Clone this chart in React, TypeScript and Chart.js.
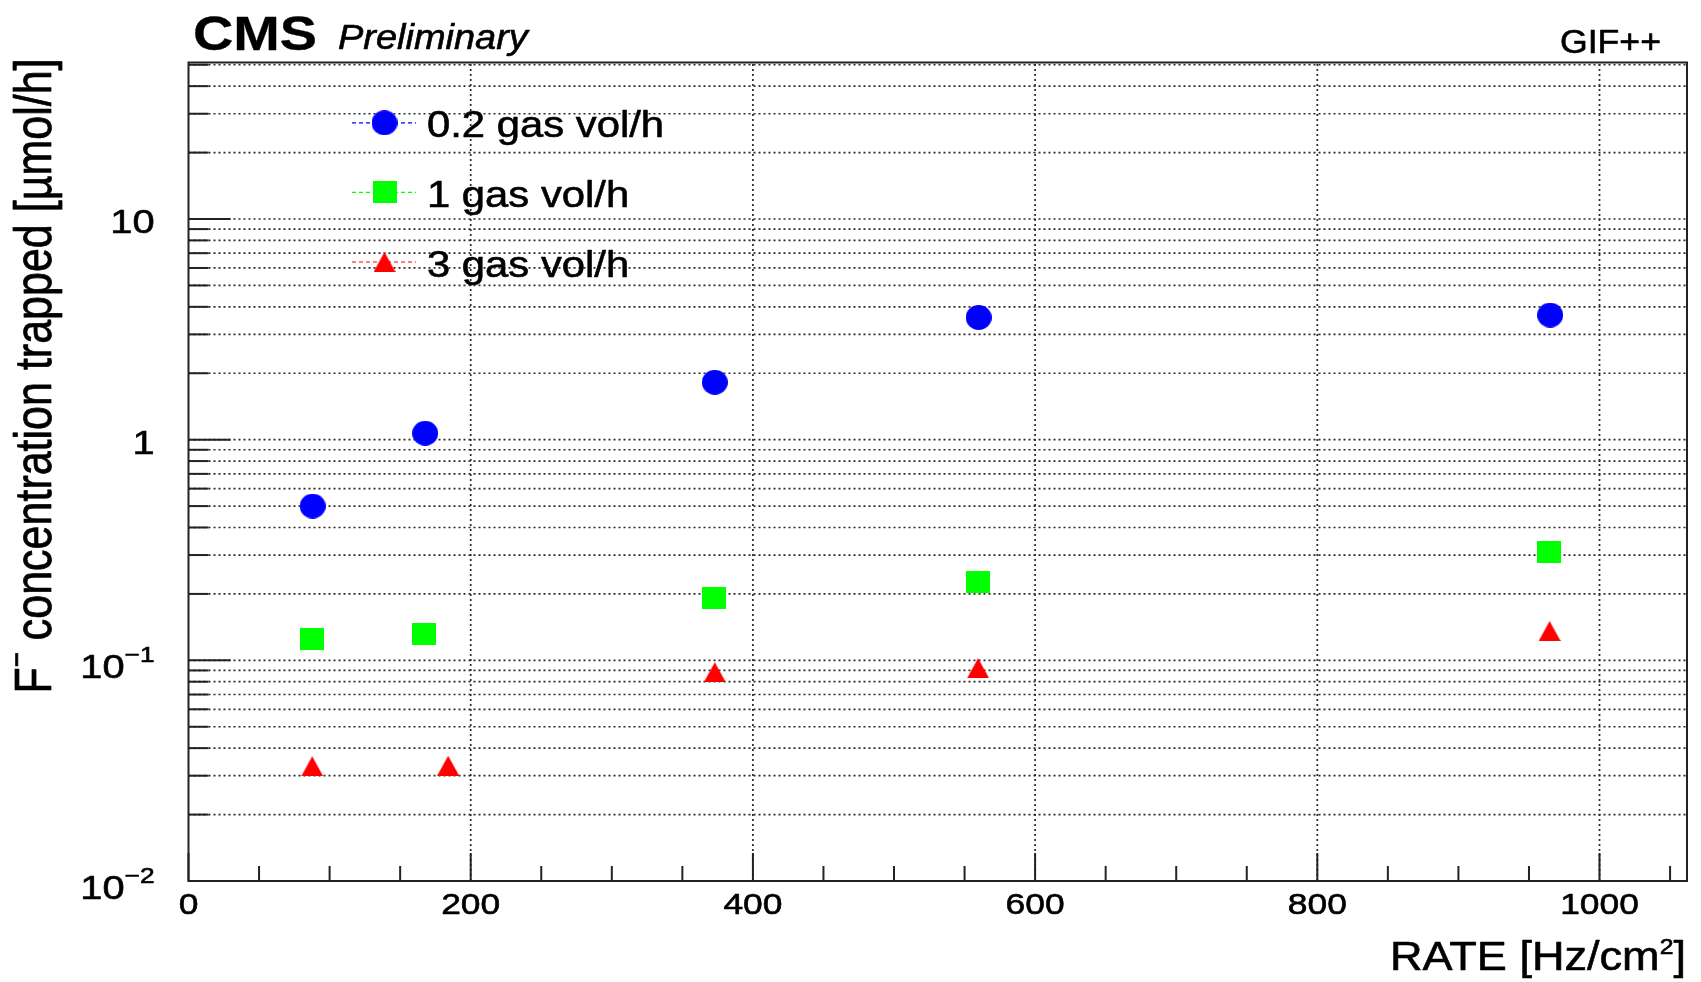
import React, { useEffect, useRef } from 'react';
import { Chart, registerables } from 'chart.js';

Chart.register(...registerables);

const FAMILY = '"Liberation Sans", Arial, Helvetica, sans-serif';

// ---- data ----
const seriesLabels = ['0.2 gas vol/h', '1 gas vol/h', '3 gas vol/h'];
const seriesColors = ['#0000ff', '#00ff00', '#ff0000'];

const ratesBlue = [88.0, 167.7, 373, 560, 965];
const trapped02 = [0.50, 1.07, 1.82, 3.58, 3.67];

const ratesGreen = [87.3, 166.6, 372.3, 559.3, 964.2];
const trapped1 = [0.1245, 0.132, 0.192, 0.227, 0.309];

const ratesRed = [87.7, 184, 373, 559.6, 964.6];
const trapped3 = [0.0331, 0.0333, 0.0883, 0.0921, 0.1358];

// ---- axes ----
const X_MIN = 0;
const X_MAX = 1062;
const Y_MIN = 0.01;
const Y_MAX = 51.2;
const xMajorTicks = [0, 200, 400, 600, 800, 1000];
const xTickLabels = ['0', '200', '400', '600', '800', '1000'];
const xMinorStep = 50;
const yMajorTicks = [0.01, 0.1, 1, 10];
const yTickBase = ['10', '10', '1', '10'];
const yTickExp = ['\u22122', '\u22121', '', ''];
const yDecades = [-2, -1, 0, 1];

type Seg = { t: string; f?: number; up?: number };
type RichOpts = {
  align?: 'left' | 'right' | 'center';
  pre?: string;
  sx?: number;
  sy?: number;
  rot?: number;
  color?: string;
  stroke?: number;
};

function drawRich(ctx: CanvasRenderingContext2D, segs: Seg[], x: number, y: number, size: number, o: RichOpts) {
  const pre = o.pre ?? '';
  ctx.save();
  ctx.translate(x, y);
  if (o.rot) ctx.rotate(o.rot);
  ctx.scale(o.sx ?? 1, o.sy ?? 1);
  ctx.fillStyle = o.color ?? '#000';
  ctx.strokeStyle = o.color ?? '#000';
  ctx.lineJoin = 'round';
  ctx.textBaseline = 'alphabetic';
  ctx.textAlign = 'left';
  const fontFor = (s: Seg) => `${pre} ${size * (s.f ?? 1)}px ${FAMILY}`.trim();
  const widths = segs.map((s) => {
    ctx.font = fontFor(s);
    return ctx.measureText(s.t).width;
  });
  const total = widths.reduce((a, b) => a + b, 0);
  let cx = o.align === 'right' ? -total : o.align === 'center' ? -total / 2 : 0;
  const sw = o.stroke ?? 0.6;
  segs.forEach((s, i) => {
    ctx.font = fontFor(s);
    const yy = -(s.up ?? 0) * size;
    ctx.fillText(s.t, cx, yy);
    if (sw > 0) {
      ctx.lineWidth = sw;
      ctx.strokeText(s.t, cx, yy);
    }
    cx += widths[i];
  });
  ctx.restore();
}

function makeMarker(kind: 'circle' | 'square' | 'triangle', color: string): HTMLCanvasElement {
  const c = document.createElement('canvas');
  const dims = kind === 'circle' ? [26, 25] : kind === 'square' ? [24, 22] : [22, 20];
  c.width = dims[0];
  c.height = dims[1];
  const g = c.getContext('2d')!;
  g.fillStyle = color;
  const [w, h] = dims;
  if (kind === 'circle') {
    g.beginPath();
    g.ellipse(w / 2, h / 2, w / 2, h / 2, 0, 0, Math.PI * 2);
    g.fill();
  } else if (kind === 'square') {
    g.fillRect(0, 0, w, h);
  } else {
    g.beginPath();
    g.moveTo(w / 2, 0);
    g.lineTo(w, h);
    g.lineTo(0, h);
    g.closePath();
    g.fill();
  }
  return c;
}

const rootPlugin = {
  id: 'rootStyle',
  beforeDatasetsDraw(chart: any) {
    const { ctx, chartArea: a, scales } = chart;
    const xs = scales.x;
    const ys = scales.y;
    ctx.save();
    // dotted grid
    ctx.strokeStyle = '#2a2a2a';
    ctx.lineWidth = 1.7;
    ctx.setLineDash([2, 3]);
    yDecades.forEach((d) => {
      for (let m = 1; m <= 9; m++) {
        const v = m * Math.pow(10, d);
        if (v <= Y_MIN * 1.0001 || v > Y_MAX) continue;
        const py = ys.getPixelForValue(v);
        ctx.beginPath();
        ctx.moveTo(a.left, py);
        ctx.lineTo(a.right, py);
        ctx.stroke();
      }
    });
    xMajorTicks.forEach((v) => {
      if (v <= X_MIN) return;
      const px = xs.getPixelForValue(v);
      ctx.beginPath();
      ctx.moveTo(px, a.bottom);
      ctx.lineTo(px, a.top);
      ctx.stroke();
    });
    ctx.setLineDash([]);
    // ticks
    ctx.strokeStyle = '#222';
    ctx.lineWidth = 2;
    yDecades.forEach((d) => {
      for (let m = 1; m <= 9; m++) {
        const v = m * Math.pow(10, d);
        if (v < Y_MIN || v > Y_MAX) continue;
        const py = ys.getPixelForValue(v);
        const len = m === 1 ? 42 : 20;
        ctx.beginPath();
        ctx.moveTo(a.left, py);
        ctx.lineTo(a.left + len, py);
        ctx.stroke();
      }
    });
    for (let v = X_MIN; v <= X_MAX; v += xMinorStep) {
      const px = xs.getPixelForValue(v);
      const len = xMajorTicks.includes(v) ? 28 : 15;
      ctx.beginPath();
      ctx.moveTo(px, a.bottom);
      ctx.lineTo(px, a.bottom - len);
      ctx.stroke();
    }
    // frame
    ctx.strokeRect(a.left, a.top, a.right - a.left, a.bottom - a.top);
    ctx.restore();
  },
  afterDatasetsDraw(chart: any) {
    const { ctx, chartArea: a, scales } = chart;
    const xs = scales.x;
    const ys = scales.y;
    // y tick labels
    yMajorTicks.forEach((v, i) => {
      const py = ys.getPixelForValue(v);
      const exp = yTickExp[i];
      const segs: Seg[] = [{ t: yTickBase[i] }];
      if (exp) segs.push({ t: exp, f: 0.66, up: 0.46 });
      const base = exp ? py + 17.5 : py + 14;
      drawRich(ctx, segs, a.left - 34, base, 34, { align: 'right', sx: 1.17 });
    });
    // x tick labels
    xMajorTicks.forEach((v, i) => {
      const px = xs.getPixelForValue(v);
      drawRich(ctx, [{ t: xTickLabels[i] }], px, a.bottom + 33, 30, { align: 'center', sx: 1.18 });
    });
    // axis titles
    drawRich(
      ctx,
      [{ t: 'RATE [Hz/cm' }, { t: '2', f: 0.55, up: 0.38 }, { t: ']' }],
      a.right - 1,
      a.bottom + 89,
      41,
      { align: 'right', sx: 1.1 }
    );
    drawRich(
      ctx,
      [{ t: 'F' }, { t: '\u2212', f: 0.6, up: 0.45 }, { t: ' concentration trapped [\u00b5mol/h]' }],
      51,
      a.top - 4,
      43,
      { align: 'right', rot: -Math.PI / 2, sy: 1.22 }
    );
    // header texts
    drawRich(ctx, [{ t: 'CMS' }], 193, 49.5, 49, { pre: 'bold', sx: 1.14, stroke: 0.3 });
    drawRich(ctx, [{ t: 'Preliminary' }], 338, 49.3, 34.5, { pre: 'italic', sx: 1.1 });
    drawRich(ctx, [{ t: 'GIF++' }], 1661, 53, 33, { align: 'right', sx: 1.08 });
    // legend
    const legendMarkerX = 384.5;
    const lineFrom = 352;
    const lineTo = 416;
    const textX = 427;
    const firstBaseline = 137.3;
    const rowStep = 69.6;
    chart.data.datasets.forEach((ds: any, i: number) => {
      const base = firstBaseline + i * rowStep;
      const cy = base - 14.5;
      ctx.save();
      ctx.strokeStyle = ds.borderColor;
      ctx.lineWidth = 1.2;
      ctx.setLineDash([4, 3]);
      ctx.beginPath();
      ctx.moveTo(lineFrom, cy);
      ctx.lineTo(lineTo, cy);
      ctx.stroke();
      ctx.restore();
      const img: HTMLCanvasElement = ds.pointStyle;
      ctx.drawImage(img, legendMarkerX - img.width / 2, cy - img.height / 2);
      drawRich(ctx, [{ t: ds.label }], textX, base, 37, { sx: 1.13 });
    });
  },
};

export default function App() {
  const ref = useRef<HTMLCanvasElement | null>(null);

  useEffect(() => {
    document.body.style.margin = '0';
    const canvas = ref.current;
    if (!canvas) return;
    const kinds: Array<'circle' | 'square' | 'triangle'> = ['circle', 'square', 'triangle'];
    const xsets = [ratesBlue, ratesGreen, ratesRed];
    const ysets = [trapped02, trapped1, trapped3];
    const datasets = seriesLabels.map((label, i) => ({
      label,
      data: xsets[i].map((x, j) => ({ x, y: ysets[i][j] })),
      pointStyle: makeMarker(kinds[i], seriesColors[i]),
      backgroundColor: seriesColors[i],
      borderColor: seriesColors[i],
      showLine: false,
      pointRadius: 13,
      pointHoverRadius: 13,
    }));
    const chart = new Chart(canvas, {
      type: 'scatter',
      data: { datasets },
      options: {
        responsive: false,
        animation: false,
        devicePixelRatio: 1,
        layout: { padding: { left: 188.5, top: 62.5, right: 14, bottom: 101 } },
        scales: {
          x: { type: 'linear', min: X_MIN, max: X_MAX, display: false },
          y: { type: 'logarithmic', min: Y_MIN, max: Y_MAX, display: false },
        },
        plugins: {
          legend: { display: false },
          tooltip: { enabled: false },
        },
        events: [],
      },
      plugins: [rootPlugin],
    } as any);
    return () => chart.destroy();
  }, []);

  return (
    <div style={{ position: 'absolute', left: 0, top: 0, width: 1701, height: 982, background: '#fff' }}>
      <canvas ref={ref} width={1701} height={982} style={{ display: 'block', width: 1701, height: 982 }} />
    </div>
  );
}
